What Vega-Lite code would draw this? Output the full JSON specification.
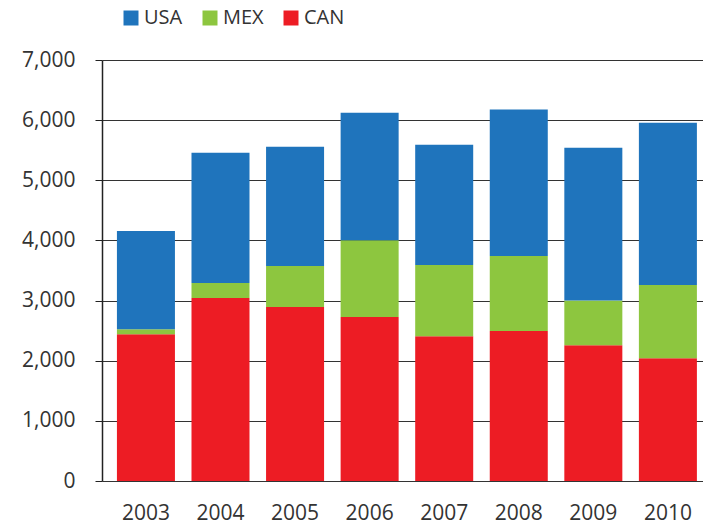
{
  "$schema": "https://vega.github.io/schema/vega-lite/v6.json",
  "width": 601,
  "height": 421,
  "autosize": {"type": "none"},
  "padding": {"left": 102, "top": 60, "right": 0, "bottom": 43},
  "background": "white",
  "data": {
    "values": [
      {"year": "2003", "country": "CAN", "value": 2442},
      {"year": "2003", "country": "MEX", "value": 83},
      {"year": "2003", "country": "USA", "value": 1633},
      {"year": "2004", "country": "CAN", "value": 3042},
      {"year": "2004", "country": "MEX", "value": 250},
      {"year": "2004", "country": "USA", "value": 2166},
      {"year": "2005", "country": "CAN", "value": 2892},
      {"year": "2005", "country": "MEX", "value": 683},
      {"year": "2005", "country": "USA", "value": 1983},
      {"year": "2006", "country": "CAN", "value": 2725},
      {"year": "2006", "country": "MEX", "value": 1278},
      {"year": "2006", "country": "USA", "value": 2122},
      {"year": "2007", "country": "CAN", "value": 2408},
      {"year": "2007", "country": "MEX", "value": 1184},
      {"year": "2007", "country": "USA", "value": 2000},
      {"year": "2008", "country": "CAN", "value": 2492},
      {"year": "2008", "country": "MEX", "value": 1250},
      {"year": "2008", "country": "USA", "value": 2433},
      {"year": "2009", "country": "CAN", "value": 2258},
      {"year": "2009", "country": "MEX", "value": 745},
      {"year": "2009", "country": "USA", "value": 2539},
      {"year": "2010", "country": "CAN", "value": 2042},
      {"year": "2010", "country": "MEX", "value": 1216},
      {"year": "2010", "country": "USA", "value": 2700}
    ]
  },
  "transform": [
    {"calculate": "indexof(['CAN','MEX','USA'], datum.country)", "as": "stackOrder"}
  ],
  "mark": {"type": "bar"},
  "encoding": {
    "x": {
      "field": "year",
      "type": "ordinal",
      "scale": {"paddingInner": 0.222, "paddingOuter": 0.141, "align": 0.71},
      "axis": {
        "title": null,
        "labelAngle": 0,
        "domain": false,
        "ticks": false,
        "labelFont": "Open Sans",
        "labelFontSize": 21,
        "labelColor": "#333333",
        "labelPadding": 21
      }
    },
    "y": {
      "field": "value",
      "type": "quantitative",
      "stack": "zero",
      "scale": {"domain": [0, 7000], "nice": false},
      "axis": {
        "title": null,
        "values": [0, 1000, 2000, 3000, 4000, 5000, 6000, 7000],
        "format": ",.0f",
        "grid": true,
        "gridColor": "#333333",
        "gridWidth": 1.2,
        "gridOpacity": 1,
        "domain": true,
        "domainColor": "#222222",
        "domainWidth": 1.5,
        "ticks": true,
        "tickSize": 7,
        "tickColor": "#222222",
        "labelFont": "Open Sans",
        "labelFontSize": 21,
        "labelColor": "#333333",
        "labelPadding": 20
      }
    },
    "color": {
      "field": "country",
      "type": "nominal",
      "scale": {"domain": ["USA", "MEX", "CAN"], "range": ["#1f74bc", "#8dc63f", "#ed1c24"]},
      "legend": {
        "title": null,
        "orient": "none",
        "direction": "horizontal",
        "legendX": 19,
        "legendY": -52,
        "symbolType": "square",
        "symbolSize": 225,
        "symbolStrokeWidth": 0,
        "symbolOpacity": 1,
        "labelFont": "Open Sans",
        "labelFontSize": 20,
        "labelColor": "#333333",
        "labelOffset": 3,
        "columnPadding": 17
      }
    },
    "order": {"field": "stackOrder", "type": "quantitative"}
  },
  "config": {"view": {"stroke": null}}
}
